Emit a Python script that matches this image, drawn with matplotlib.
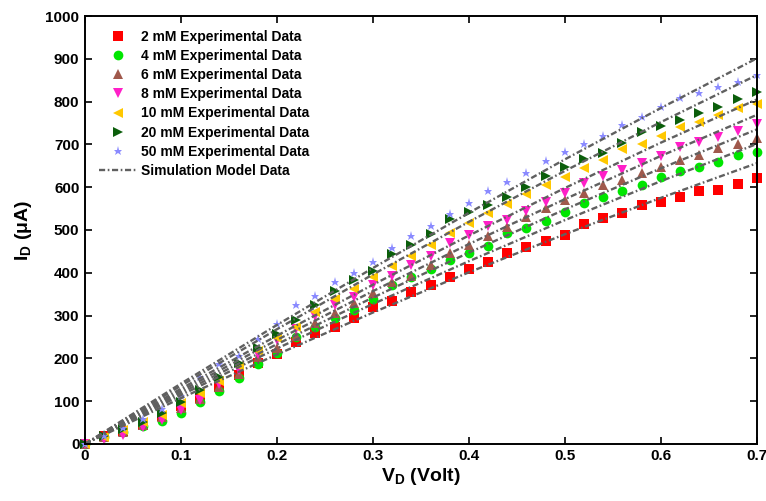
import numpy as np
import matplotlib
matplotlib.use('Agg')
import matplotlib.pyplot as plt

plt.rcParams['font.family'] = ['Liberation Sans', 'DejaVu Sans']
plt.rcParams['font.weight'] = 'bold'
plt.rcParams['mathtext.fontset'] = 'custom'
plt.rcParams['mathtext.rm'] = 'Liberation Sans:bold'
plt.rcParams['mathtext.bf'] = 'Liberation Sans:bold'
plt.rcParams['mathtext.it'] = 'Liberation Sans:bold'

# measured drain voltage (V)
vd = [0.00, 0.02, 0.04, 0.06, 0.08, 0.10, 0.12, 0.14, 0.16, 0.18,
      0.20, 0.22, 0.24, 0.26, 0.28, 0.30, 0.32, 0.34, 0.36, 0.38,
      0.40, 0.42, 0.44, 0.46, 0.48, 0.50, 0.52, 0.54, 0.56, 0.58,
      0.60, 0.62, 0.64, 0.66, 0.68, 0.70]

# experimental drain current (uA)
id_2mM = [0, 18, 30, 45, 66, 89, 108, 134, 161, 188, 210, 238, 259, 274, 295, 319, 333, 356,
          372, 389, 408, 426, 445, 461, 475, 488, 514, 527, 540, 558, 566, 578, 590, 593, 607, 622]
id_4mM = [0, 15, 28, 42, 54, 72, 97, 124, 155, 186, 212, 250, 273, 294, 313, 339, 371, 391,
          408, 430, 447, 463, 492, 504, 522, 541, 564, 576, 590, 605, 623, 638, 646, 658, 675, 683]
id_6mM = [0, 16, 28, 45, 62, 83, 106, 134, 164, 204, 224, 251, 282, 307, 330, 352, 379, 393,
          418, 446, 465, 486, 508, 531, 551, 570, 587, 605, 617, 632, 648, 664, 675, 691, 702, 714]
id_8mM = [0, 12, 21, 39, 56, 79, 102, 140, 172, 210, 243, 268, 299, 325, 344, 371, 393, 417,
          439, 469, 488, 509, 523, 544, 566, 587, 609, 625, 640, 657, 673, 693, 706, 718, 731, 748]
id_10mM = [0, 17, 33, 50, 68, 95, 118, 146, 181, 216, 247, 274, 309, 338, 361, 391, 416, 439,
           465, 492, 516, 540, 561, 584, 605, 623, 644, 664, 689, 701, 720, 740, 753, 769, 784, 794]
id_20mM = [0, 18, 34, 52, 72, 99, 126, 157, 189, 224, 257, 290, 325, 358, 382, 405, 443, 465,
           491, 526, 543, 558, 576, 601, 625, 646, 667, 681, 704, 730, 743, 757, 773, 788, 805, 823]
id_50mM = [0, 18, 37, 58, 82, 113, 157, 186, 206, 245, 280, 325, 346, 378, 399, 424, 457, 487,
           509, 537, 562, 590, 613, 634, 661, 683, 701, 720, 745, 765, 787, 808, 819, 833, 846, 862]

# simulation model curves
vd_sim = [0.0, 0.1, 0.2, 0.3, 0.4, 0.5, 0.6, 0.7]
sim_2mM = [0, 107, 209, 307, 401, 490, 575, 656]
sim_4mM = [0, 114, 223, 327, 427, 523, 614, 701]
sim_6mM = [0, 119, 233, 342, 447, 548, 644, 735]
sim_8mM = [0, 124, 243, 357, 467, 572, 673, 769]
sim_10mM = [0, 129, 253, 372, 487, 598, 704, 805]
sim_20mM = [0, 136, 268, 396, 519, 638, 752, 862]
sim_50mM = [0, 141, 278, 411, 540, 665, 785, 901]

labels = ['2 mM Experimental Data', '4 mM Experimental Data', '6 mM Experimental Data',
          '8 mM Experimental Data', '10 mM Experimental Data', '20 mM Experimental Data',
          '50 mM Experimental Data']

xticks = [0, 0.1, 0.2, 0.3, 0.4, 0.5, 0.6, 0.7]
xtick_labels = ['0', '0.1', '0.2', '0.3', '0.4', '0.5', '0.6', '0.7']
yticks = [0, 100, 200, 300, 400, 500, 600, 700, 800, 900, 1000]

exp_data = [id_2mM, id_4mM, id_6mM, id_8mM, id_10mM, id_20mM, id_50mM]
sim_data = [sim_2mM, sim_4mM, sim_6mM, sim_8mM, sim_10mM, sim_20mM, sim_50mM]
markers = ['s', 'o', '^', 'v', '<', '>', '*']
colors = ['#ff0000', '#00e600', '#a0594c', '#ff1fc8', '#ffc800', '#0b5e0b', '#8a8aff']
sizes = [6.5, 7, 7, 7, 7, 7, 6.5]

fig, ax = plt.subplots(figsize=(7.66, 5.01), dpi=100)
fig.subplots_adjust(left=0.111, right=0.988, top=0.968, bottom=0.114)

for y, m, c, s, lab in zip(exp_data, markers, colors, sizes, labels):
    ax.plot(vd, y, linestyle='none', marker=m, color=c, markersize=s,
            markeredgewidth=0, label=lab, zorder=2, clip_on=False)

for i, y in enumerate(sim_data):
    ax.plot(vd_sim, y, color='#606060', linewidth=1.7,
            dashes=[2.6, 1.1, 0.7, 1.1], zorder=3,
            label='Simulation Model Data' if i == 0 else None)

ax.set_xlim(0, 0.7)
ax.set_ylim(0, 1000)
ax.set_xticks(xticks)
ax.set_xticklabels(xtick_labels)
ax.set_yticks(yticks)
ax.tick_params(direction='in', top=True, right=True, length=5, width=1.2,
               labelsize=11, pad=4)
for lab in ax.get_xticklabels() + ax.get_yticklabels():
    lab.set_fontweight('bold')
for sp in ax.spines.values():
    sp.set_linewidth(1.4)
    sp.set_zorder(4)

ax.set_xlabel(r'$\mathbf{V_D}$ (Volt)', fontsize=14, fontweight='bold', labelpad=2)
ax.set_ylabel(r'$\mathbf{I_D}$ ($\mu$A)', fontsize=14, fontweight='bold', labelpad=8)

ax.legend(loc='upper left', frameon=False, handlelength=2.7,
          handletextpad=0.3, labelspacing=0.37, borderaxespad=0.6,
          prop={'weight': 'bold', 'size': 10})

fig.savefig('out.png', dpi=100)
